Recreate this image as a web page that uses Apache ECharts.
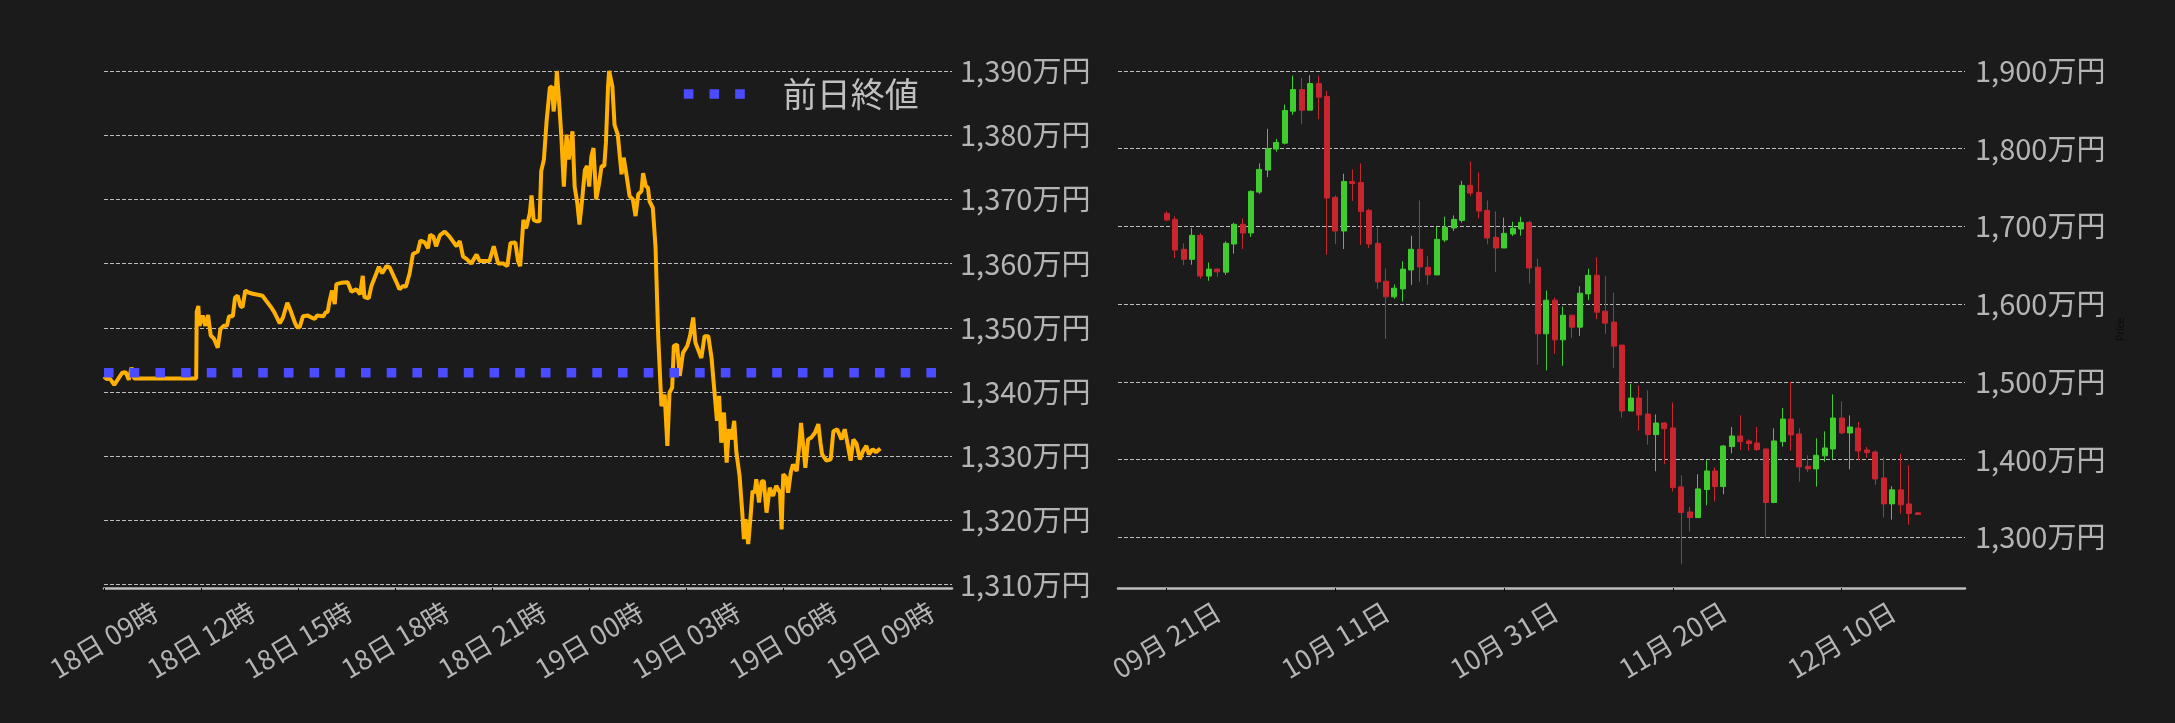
<!DOCTYPE html>
<html>
<head>
<meta charset="utf-8">
<script src="https://cdn.jsdelivr.net/npm/echarts@6/dist/echarts.min.js"></script>
<style>
html,body{margin:0;padding:0;background:#1b1b1b;}
#c{width:2175px;height:723px;}
</style>
</head>
<body>
<div id="c"></div>
<script>
// ---------- Left chart: intraday price (万円), minutes after 18日 09:00 ----------
const lineMinutes = [0,5,11,19,26,34,40,46,51,56,171,172,175,177,183,188,193,198,204,211,216,222,228,232,239,243,248,253,257,262,268,276,294,301,310,316,326,332,340,346,354,358,363,369,378,385,391,395,407,411,415,418,423,428,431,440,452,459,468,
475,480,483,491,496,502,510,516,524,530,537,542,548,555,560,567,573,582,587,595,601,605,611,616,623,632,641,647,654,660,666,673,681,691,697,715,723,731,741,748,754,763,768,772,778,783,790,793,797,802,808,811,816,821,827,831,834,838,840,844,848,853,858,862,869,873,878,882,887,892,896,900,904,908,913,918,923,928,931,935,937,
943,947,953,960,964,969,975,981,986,991,997,1000,1005,1009,1012,1018,1023,1028,1034,1040,1045,1049,1054,1057,1063,1068,1074,1082,1087,1093,1097,1102,1108,1114,1121,1127,1133,1137,1141,1145,1150,1155,1159,1164,1169,1173,1179,1184,1187,1190,1195,1199,1203,1207,1210,1215,1220,1224,1229,1235,1241,1247,1254,1257,1260,1265,1269,1274,1278,1285,1289,1293,1297,1301,1306,1312,1319,1325,1329,1332,1340,1348,1353,1360,1368,1374,1380,1385,1390,1396,1402,1408,1414,1419,1426,1432,1440];
const lineValues = [1342.4,1342.0,1342.1,1341.1,1342.0,1343.0,1343.1,1341.9,1343.8,1342.1,1342.1,1352.5,1353.4,1350.3,1351.9,1350.3,1352.0,1348.8,1348.3,1346.9,1349.8,1350.3,1350.3,1351.8,1351.8,1354.7,1355.0,1353.4,1353.2,1355.8,1355.5,1355.3,1355.0,1354.2,1353.2,1352.4,1350.7,1351.6,1353.9,1352.7,1350.8,1350.1,1350.1,1351.8,1351.9,1351.6,1351.4,1351.9,1351.8,1352.4,1352.5,1354.0,1355.8,1353.7,1356.8,1357.0,1357.1,1355.6,1356.0,
1355.2,1358.1,1354.8,1354.6,1356.5,1357.8,1359.5,1358.5,1359.6,1359.4,1358.1,1357.2,1356.0,1356.5,1356.4,1358.5,1361.5,1361.9,1363.6,1363.3,1362.4,1364.5,1364.2,1362.7,1364.4,1365.0,1364.2,1363.5,1362.7,1363.5,1361.1,1360.7,1360.0,1361.4,1360.4,1360.4,1362.7,1360.0,1360.0,1359.6,1363.2,1363.3,1360.4,1359.6,1366.8,1365.5,1367.9,1370.6,1366.8,1366.6,1366.6,1374.4,1376.2,1382.2,1387.4,1387.6,1383.7,1386.6,1390.0,1385.5,1380.3,1372.0,1380.1,1376.2,1380.6,1372.0,1369.4,1366.1,1370.0,1374.6,1375.2,1372.0,1376.7,1378.0,1370.0,1372.3,1375.2,1375.2,1378.8,1387.6,1390.0,
1387.6,1381.6,1380.1,1373.9,1376.5,1373.9,1370.5,1370.0,1367.4,1370.8,1371.3,1374.1,1372.1,1371.8,1369.7,1368.7,1362.7,1348.7,1337.8,1339.6,1331.6,1339.9,1340.7,1347.2,1347.4,1342.5,1346.1,1347.2,1348.7,1351.6,1347.7,1346.6,1345.3,1348.7,1348.7,1345.3,1339.4,1335.5,1339.4,1332.1,1336.8,1329.0,1334.2,1332.6,1335.5,1330.6,1326.9,1321.2,1317.1,1320.2,1316.3,1320.2,1324.6,1324.3,1326.4,1322.8,1326.1,1326.1,1321.2,1325.1,1323.8,1325.4,1324.3,1318.6,1327.2,1326.7,1324.3,1327.5,1328.7,1327.7,1331.1,1335.2,1331.6,1328.2,1332.6,1332.9,1333.7,1335.0,1332.1,1330.3,1329.3,1329.5,1333.9,1334.2,1332.6,1334.2,1331.6,1329.3,1332.6,1331.9,1329.5,1330.8,1331.6,1330.3,1331.1,1330.6,1331.2];
const prevCloseName = '前日終値';
const prevClose = 1343.0;
const timeTickValues = [0,180,360,540,720,900,1080,1260,1440];
const timeTickLabels = ['18日 09時','18日 12時','18日 15時','18日 18時','18日 21時','19日 00時','19日 03時','19日 06時','19日 09時'];

// ---------- Right chart: daily candles (万円), day index from 09月 21日 ----------
const candleOpen  = [1716.8,1709.1,1670.6,1657.7,1688.6,1636.1,1645.1,1641.2,1677.4,1702.7,1691.6,1744.2,1772.5,1799.5,1807.2,1848.3,1876.1,1849.6,1883.8,1867.1,1737.4,1694.1,1757.9,1756.6,1720.7,1678.3,1629.5,1609.4,1619.6,1644.0,1670.6,1647.5,1637.6,1682.6,1698.0,1707.8,1752.8,1743.8,1720.7,1686.0,1672.3,1690.3,1696.7,1705.2,1647.5,1561.8,1605.1,1554.1,1585.8,1570.4,1613.2,1637.2,1591.0,1576.9,1547.3,1462.5,1479.2,1458.6,1432.1,1447.1,1440.7,1364.9,1332.7,1325.4,1361.5,1385.4,1365.3,1416.7,1430.4,1424.0,1421.4,1413.7,1344.8,1423.1,1452.2,1433.0,1391.4,1388.0,1404.8,1413.7,1453.5,1434.3,1440.7,1412.4,1409.8,1376.4,1343.0,1361.1,1343.0,1331.5];
const candleClose = [1708.3,1669.7,1657.7,1688.6,1636.1,1645.1,1641.6,1678.3,1702.7,1691.6,1745.1,1773.4,1799.9,1808.0,1849.1,1876.1,1849.6,1883.8,1866.3,1736.5,1694.1,1757.9,1755.3,1719.4,1677.4,1628.6,1609.4,1620.5,1645.1,1670.6,1647.9,1637.6,1683.4,1698.8,1709.1,1752.8,1742.9,1719.8,1685.1,1672.3,1691.1,1697.6,1705.2,1646.6,1561.8,1605.1,1554.1,1585.8,1570.4,1614.1,1637.2,1589.7,1575.6,1546.0,1462.5,1479.2,1457.4,1432.1,1447.1,1439.8,1364.0,1331.9,1325.4,1362.3,1385.4,1365.3,1417.5,1430.4,1423.1,1420.6,1412.9,1344.8,1424.0,1452.2,1431.7,1390.6,1388.0,1405.6,1415.0,1453.5,1434.3,1442.0,1411.1,1409.0,1375.1,1343.0,1361.1,1341.8,1330.6,1329.3];
const candleLow   = [1706.6,1659.4,1650.3,1650.7,1632.6,1630.1,1635.0,1637.7,1665.0,1670.9,1686.5,1741.7,1763.5,1796.1,1805.5,1843.6,1831.6,1849.6,1838.0,1663.3,1677.4,1670.9,1732.7,1676.1,1672.3,1619.6,1555.4,1606.8,1603.4,1624.8,1628.6,1624.8,1637.6,1680.0,1694.1,1704.8,1739.1,1710.4,1677.0,1641.5,1672.3,1687.7,1688.1,1626.5,1522.0,1514.7,1536.1,1520.7,1556.7,1559.2,1605.5,1580.7,1561.8,1517.7,1453.9,1462.5,1437.2,1419.2,1385.0,1394.0,1358.9,1265.5,1307.5,1325.4,1341.2,1346.0,1355.5,1408.1,1412.4,1411.5,1411.1,1300.0,1343.9,1416.7,1411.5,1371.8,1384.1,1365.3,1397.4,1400.4,1433.0,1387.6,1399.1,1402.6,1367.4,1325.4,1322.8,1330.6,1316.1,1328.9];
const candleHigh  = [1719.4,1713.0,1678.3,1698.0,1691.2,1653.6,1645.9,1680.9,1704.8,1710.4,1746.4,1781.1,1825.6,1812.7,1856.8,1894.1,1891.1,1894.5,1894.1,1874.4,1740.0,1767.8,1773.4,1781.1,1722.8,1698.4,1645.9,1625.2,1655.3,1688.1,1733.5,1661.6,1699.3,1712.5,1714.2,1758.8,1783.6,1769.5,1733.5,1719.4,1711.3,1706.1,1712.5,1707.4,1658.6,1617.5,1608.5,1596.9,1585.8,1623.0,1645.8,1660.3,1635.9,1614.9,1547.3,1497.6,1495.5,1489.0,1458.1,1448.4,1473.6,1379.9,1339.1,1381.1,1399.1,1390.1,1418.8,1442.0,1456.9,1426.1,1442.0,1413.7,1440.3,1466.4,1500.2,1440.3,1405.6,1427.4,1436.4,1483.9,1475.0,1456.9,1448.4,1416.3,1412.0,1403.0,1365.8,1407.3,1392.7,1332.3];
const dateTickValues = [0,20,40,60,80];
const dateTickLabels = ['09月 21日','10月 11日','10月 31日','11月 20日','12月 10日'];

// ---------- build ----------
const FONT = "'Noto Sans CJK JP', 'Noto Sans', sans-serif";
const LABEL = '#b4b4b4';
const lineData = lineMinutes.map((m, i) => [m, lineValues[i]]);
const candleData = candleOpen.map((o, i) => [i, o, candleClose[i], candleLow[i], candleHigh[i]]);
const fmtYen = v => v.toLocaleString('en-US') + '万円';

const splitLineStyle = { show: true, lineStyle: { color: '#bdbdbd', width: 1, type: [4, 2] } };
const xAxisCommon = {
  type: 'value',
  axisLine: { show: true, onZero: false, lineStyle: { color: '#bdbdbd', width: 2.5 } },
  axisTick: { show: true, length: 4, lineStyle: { color: '#0d0d0d', width: 1 } },
  splitLine: { show: false },
  axisLabel: { rotate: 31, align: 'center', verticalAlign: 'middle', margin: 52, color: LABEL, fontSize: 27, fontFamily: FONT }
};

const chart = echarts.init(document.getElementById('c'), null, { renderer: 'canvas' });
chart.setOption({
  backgroundColor: '#1b1b1b',
  animation: false,
  grid: [
    { left: 104, right: 1223, top: 71, bottom: 135 },
    { left: 1118, right: 210, top: 71, bottom: 135 }
  ],
  legend: {
    data: [prevCloseName],
    left: 679, top: 77, padding: 0,
    itemWidth: 61, itemHeight: 10,
    textStyle: { color: '#c0c0c0', fontSize: 34, fontFamily: FONT, padding: [0, 0, 0, 33] },
    lineStyle: { width: 9.6, type: [9.6, 16.1], cap: 'butt' }
  },
  xAxis: [
    Object.assign({}, xAxisCommon, {
      gridIndex: 0, min: 0, max: 1573,
      axisTick: Object.assign({}, xAxisCommon.axisTick, { customValues: timeTickValues }),
      axisLabel: Object.assign({}, xAxisCommon.axisLabel, {
        customValues: timeTickValues,
        formatter: v => timeTickLabels[timeTickValues.indexOf(v)] || ''
      })
    }),
    Object.assign({}, xAxisCommon, {
      gridIndex: 1, min: -5.77, max: 94.63,
      axisTick: Object.assign({}, xAxisCommon.axisTick, { customValues: dateTickValues }),
      axisLabel: Object.assign({}, xAxisCommon.axisLabel, {
        customValues: dateTickValues,
        formatter: v => dateTickLabels[dateTickValues.indexOf(v)] || ''
      })
    })
  ],
  yAxis: [
    {
      type: 'value', gridIndex: 0, position: 'right',
      min: 1309.47, max: 1390, splitNumber: 8, minInterval: 10, maxInterval: 10,
      axisLine: { show: false, onZero: false }, axisTick: { show: false },
      splitLine: splitLineStyle,
      axisLabel: { margin: 8, color: LABEL, fontSize: 29, fontFamily: FONT, padding: [6, 0, 0, 0],
        formatter: v => (Math.abs(v - Math.round(v / 10) * 10) < 1e-6 ? fmtYen(v) : '') }
    },
    {
      type: 'value', gridIndex: 1, position: 'right',
      min: 1234.8, max: 1900, splitNumber: 7, minInterval: 100, maxInterval: 100,
      axisLine: { show: false, onZero: false }, axisTick: { show: false },
      splitLine: splitLineStyle,
      name: 'Price', nameLocation: 'middle', nameRotate: 90, nameGap: 150,
      nameTextStyle: { color: '#0a0a0a', fontSize: 10, fontFamily: FONT },
      axisLabel: { margin: 10, color: LABEL, fontSize: 29, fontFamily: FONT, padding: [6, 0, 0, 0],
        formatter: v => (Math.abs(v - Math.round(v / 100) * 100) < 1e-6 ? fmtYen(v) : '') }
    }
  ],
  series: [
    {
      name: '価格', type: 'line', xAxisIndex: 0, yAxisIndex: 0,
      data: lineData, symbol: 'none', showSymbol: false,
      lineStyle: { color: '#ffb000', width: 4 }, z: 2
    },
    {
      name: prevCloseName, type: 'line', xAxisIndex: 0, yAxisIndex: 0,
      data: [[0, prevClose], [1573, prevClose]], symbol: 'none', showSymbol: false,
      lineStyle: { color: '#4b4bff', width: 9.6, type: [9.6, 16.1], cap: 'butt' },
      itemStyle: { color: '#4b4bff' }, z: 3
    },
    {
      name: 'Price', type: 'candlestick', xAxisIndex: 1, yAxisIndex: 1,
      data: candleData, encode: { x: 0, y: [1, 2, 3, 4] },
      barWidth: 5.5,
      itemStyle: { color: '#3fcc2e', color0: '#c8252f', borderColor: '#3fcc2e', borderColor0: '#c8252f', borderWidth: 1 }
    }
  ]
});
</script>
</body>
</html>
